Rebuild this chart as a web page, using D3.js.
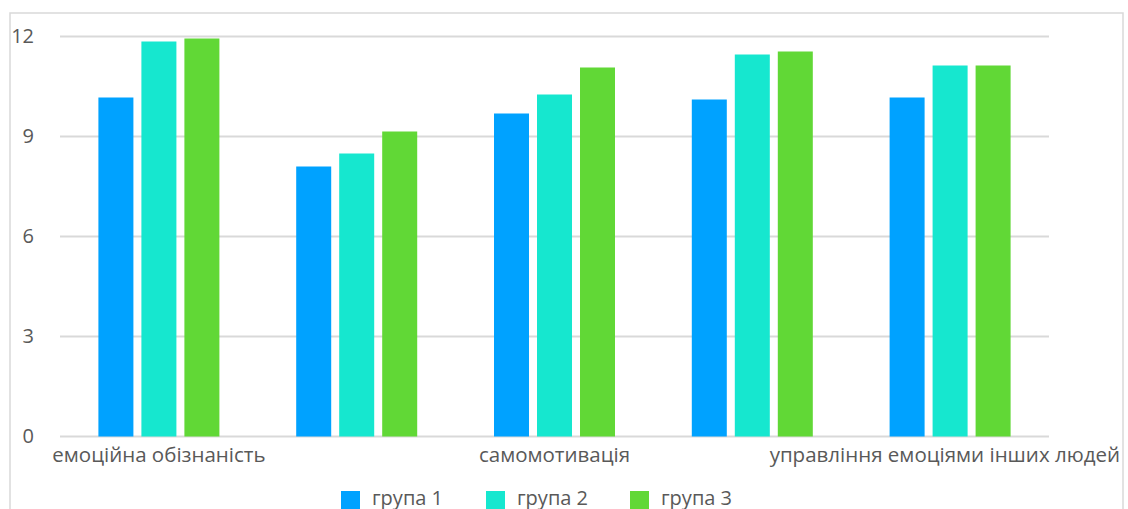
<!DOCTYPE html>
<html>
<head>
<meta charset="utf-8">
<script src="https://cdn.jsdelivr.net/npm/d3@7"></script>
<style>
  html, body { margin: 0; padding: 0; background: #fff; }
  svg { display: block; font-family: "Open Sans", "Noto Sans", sans-serif; }
</style>
</head>
<body>
<svg id="chart" width="1128" height="509"></svg>
<script>
const categories = [
  "емоційна обізнаність",
  "управління своїми емоціями",
  "самомотивація",
  "емпатія",
  "управління емоціями інших людей"
];
const seriesNames = ["група 1", "група 2", "група 3"];
const group1 = [10.17, 8.1, 9.69, 10.11, 10.17];
const group2 = [11.85, 8.49, 10.26, 11.46, 11.13];
const group3 = [11.94, 9.15, 11.07, 11.55, 11.13];
const yTicks = [0, 3, 6, 9, 12];
const colors = ["#00A2FF", "#16E7CF", "#61D836"];

const seriesValues = [group1, group2, group3];
const svg = d3.select("#chart");
const textColor = "#595959";
const gridColor = "#d9d9d9";

// outer frame
svg.append("rect")
  .attr("x", 10).attr("y", 13)
  .attr("width", 1113).attr("height", 510)
  .attr("fill", "none").attr("stroke", gridColor).attr("stroke-width", 1.5);

const x0 = d3.scaleBand().domain(categories).range([60, 1049]).padding(0);
const groupW = 121;
const x1 = d3.scaleBand().domain(seriesNames).range([0, groupW]).paddingInner(0.186).paddingOuter(0);
const y = d3.scaleLinear().domain([0, 12]).range([436.5, 36.5]);

// gridlines
svg.append("g").selectAll("line").data(yTicks).join("line")
  .attr("x1", 60).attr("x2", 1049)
  .attr("y1", d => y(d)).attr("y2", d => y(d))
  .attr("stroke", gridColor).attr("stroke-width", 2);

// y axis labels
const yAxis = d3.axisLeft(y).tickValues(yTicks).tickSize(0).tickPadding(0);
const gy = svg.append("g").attr("transform", "translate(34,0)").call(yAxis);
gy.select(".domain").remove();
gy.selectAll("text")
  .attr("fill", textColor).attr("font-size", 20)
  .attr("font-family", "\"Open Sans\", sans-serif");

// bars
const groups = svg.append("g").selectAll("g").data(categories).join("g")
  .attr("transform", c => `translate(${x0(c) + x0.bandwidth() / 2 - groupW / 2},0)`);
groups.selectAll("rect")
  .data((c, i) => seriesNames.map((s, j) => ({ s, v: seriesValues[j][i], j })))
  .join("rect")
  .attr("x", d => x1(d.s))
  .attr("width", x1.bandwidth())
  .attr("y", d => y(d.v))
  .attr("height", d => y(0) - y(d.v))
  .attr("fill", d => colors[d.j]);

// x axis labels (every other, as in the original)
const xAxis = d3.axisBottom(x0).tickSize(0).tickPadding(0)
  .tickFormat((c, i) => i % 2 === 0 ? c : "");
const gx = svg.append("g").attr("transform", "translate(0,447)").call(xAxis);
gx.select(".domain").remove();
gx.selectAll("text")
  .attr("fill", textColor).attr("font-size", 20.5)
  .attr("font-family", "\"Open Sans\", sans-serif");
// keep labels inside the frame
gx.selectAll(".tick").each(function () {
  const t = d3.select(this).select("text");
  const node = t.node();
  if (!node.textContent) return;
  const m = this.transform.baseVal.consolidate().matrix;
  const bb = node.getBBox();
  const right = m.e + bb.x + bb.width;
  if (right > 1120) t.attr("dx", 1120 - right);
});

// legend
const legendX = [341, 486, 630];
const lg = svg.append("g").selectAll("g").data(seriesNames).join("g")
  .attr("transform", (d, i) => `translate(${legendX[i]},491)`);
lg.append("rect").attr("width", 19).attr("height", 19).attr("fill", (d, i) => colors[i]);
lg.append("text").attr("x", 31).attr("y", 13.5)
  .attr("fill", textColor).attr("font-size", 20)
  .text(d => d);
</script>
</body>
</html>
